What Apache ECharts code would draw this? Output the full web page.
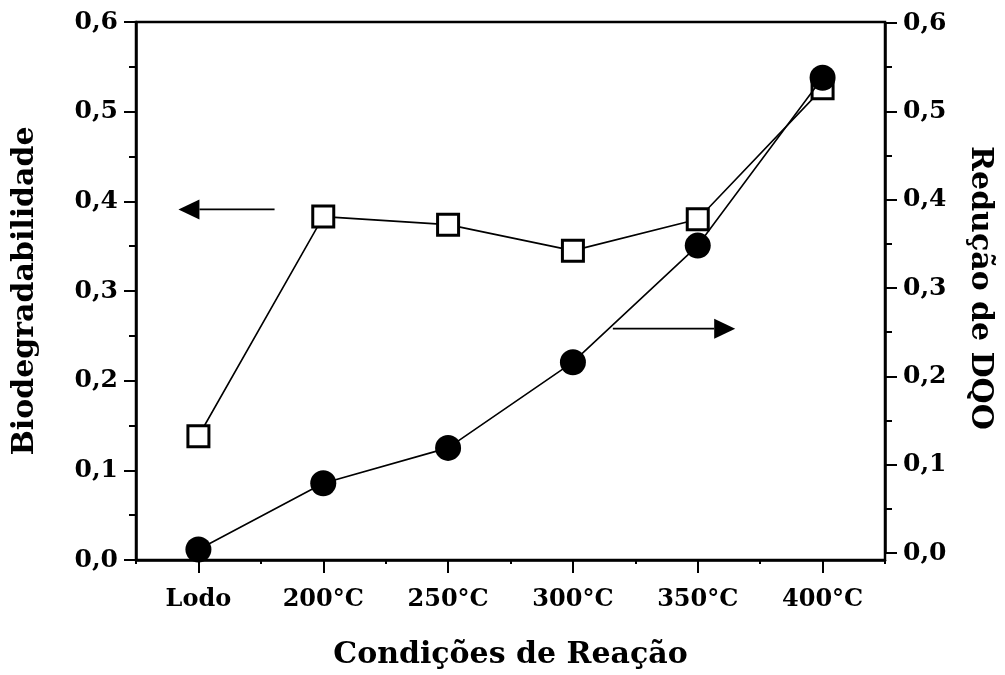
<!DOCTYPE html>
<html>
<head>
<meta charset="utf-8">
<script src="https://cdn.jsdelivr.net/npm/echarts@6/dist/echarts.min.js"></script>
<style>
html,body{margin:0;padding:0;background:#fff;}
#chart{width:1005px;height:675px;}
</style>
</head>
<body>
<div id="chart"></div>
<script>
// ---- data ----
const categories = ['Lodo', '200°C', '250°C', '300°C', '350°C', '400°C'];
const biodegradabilidade = [0.138, 0.383, 0.374, 0.345, 0.380, 0.526]; // open squares, left axis
const reducaoDQO = [0.004, 0.079, 0.119, 0.216, 0.348, 0.538];          // filled circles, right axis
const yTickLabels = ['0,0', '0,1', '0,2', '0,3', '0,4', '0,5', '0,6'];
const xTitle = 'Condições de Reação';
const yLeftTitle = 'Biodegradabilidade';
const yRightTitle = 'Redução de DQO';
// annotation arrows (data units: category index, axis value)
const arrowLeft = { from: 0.61, to: -0.16, value: 0.391 };
const arrowRight = { from: 3.32, to: 4.30, value: 0.254 };

const FONT = 'DejaVu Serif';
const tickFmt = v => yTickLabels[Math.round(v * 10)] ?? '';

const chart = echarts.init(document.getElementById('chart'), null, { renderer: 'canvas' });

const yAxisCommon = {
  type: 'value', min: 0, max: 0.6, interval: 0.1,
  axisLine: { show: true, lineStyle: { color: '#000', width: 2.5 } },
  axisTick: { show: true, inside: false, length: 12, lineStyle: { color: '#000', width: 2 } },
  minorTick: { show: true, splitNumber: 2, length: 7, lineStyle: { color: '#000', width: 2 } },
  splitLine: { show: false },
  minorSplitLine: { show: false },
  axisLabel: { formatter: tickFmt, color: '#000', fontFamily: FONT, fontWeight: 'bold', fontSize: 25, margin: 18 },
  nameLocation: 'middle',
  nameTextStyle: { color: '#000', fontFamily: FONT, fontWeight: 'bold', fontSize: 30 }
};

chart.setOption({
  backgroundColor: '#fff',
  animation: false,
  grid: [
    { left: 136, right: 120, top: 22, bottom: 115, show: true, borderColor: '#000', borderWidth: 2.5, backgroundColor: 'transparent' },
    { left: 136, right: 120, top: 23, bottom: 122, show: false }
  ],
  xAxis: [
    {
      type: 'category', gridIndex: 0, position: 'bottom', data: categories, boundaryGap: true,
      axisLine: { show: true, lineStyle: { color: '#000', width: 2.5 } },
      axisTick: { show: true, alignWithLabel: true, length: 13, lineStyle: { color: '#000', width: 2 } },
      axisLabel: { color: '#000', fontFamily: FONT, fontWeight: 'bold', fontSize: 24, margin: 28 },
      name: xTitle, nameLocation: 'middle', nameGap: 80,
      nameTextStyle: { color: '#000', fontFamily: FONT, fontWeight: 'bold', fontSize: 30 }
    },
    {
      type: 'category', gridIndex: 0, position: 'bottom', data: categories, boundaryGap: true,
      axisLine: { show: false },
      axisTick: { show: true, length: 4, lineStyle: { color: '#000', width: 2 } },
      axisLabel: { show: false }
    },
    {
      type: 'category', gridIndex: 1, position: 'bottom', data: categories, boundaryGap: true, show: false
    }
  ],
  yAxis: [
    Object.assign({}, yAxisCommon, { gridIndex: 0, position: 'left', name: yLeftTitle, nameRotate: 90, nameGap: 96 }),
    Object.assign({}, yAxisCommon, { gridIndex: 1, position: 'right', name: yRightTitle, nameRotate: -90, nameGap: 80 })
  ],
  series: [
    {
      name: yLeftTitle, type: 'line', xAxisIndex: 0, yAxisIndex: 0, data: biodegradabilidade,
      symbol: 'rect', symbolSize: 21,
      lineStyle: { color: '#000', width: 1.6 },
      itemStyle: { color: '#fff', borderColor: '#000', borderWidth: 3 },
      z: 3
    },
    {
      name: yRightTitle, type: 'line', xAxisIndex: 2, yAxisIndex: 1, data: reducaoDQO,
      symbol: 'circle', symbolSize: 26,
      lineStyle: { color: '#000', width: 1.6 },
      itemStyle: { color: '#000', borderColor: '#000', borderWidth: 0 },
      z: 4
    }
  ]
});

function catPx(xAxisIndex, yAxisIndex, idx, val) {
  const p0 = chart.convertToPixel({ xAxisIndex, yAxisIndex }, [0, val]);
  const p1 = chart.convertToPixel({ xAxisIndex, yAxisIndex }, [1, val]);
  return [p0[0] + (p1[0] - p0[0]) * idx, p0[1]];
}
function arrowGraphic(a, xAxisIndex, yAxisIndex) {
  const s = catPx(xAxisIndex, yAxisIndex, a.from, a.value);
  const t = catPx(xAxisIndex, yAxisIndex, a.to, a.value);
  const dir = Math.sign(t[0] - s[0]);
  const headLen = 21, headHalf = 10;
  const bx = t[0] - dir * headLen;
  return [
    { type: 'line', shape: { x1: s[0], y1: s[1], x2: bx, y2: t[1] }, style: { stroke: '#000', lineWidth: 1.8 }, z: 10 },
    { type: 'polygon', shape: { points: [[t[0], t[1]], [bx, t[1] - headHalf], [bx, t[1] + headHalf]] }, style: { fill: '#000' }, z: 10 }
  ];
}
chart.setOption({
  graphic: [].concat(arrowGraphic(arrowLeft, 0, 0), arrowGraphic(arrowRight, 2, 1))
});
</script>
</body>
</html>
